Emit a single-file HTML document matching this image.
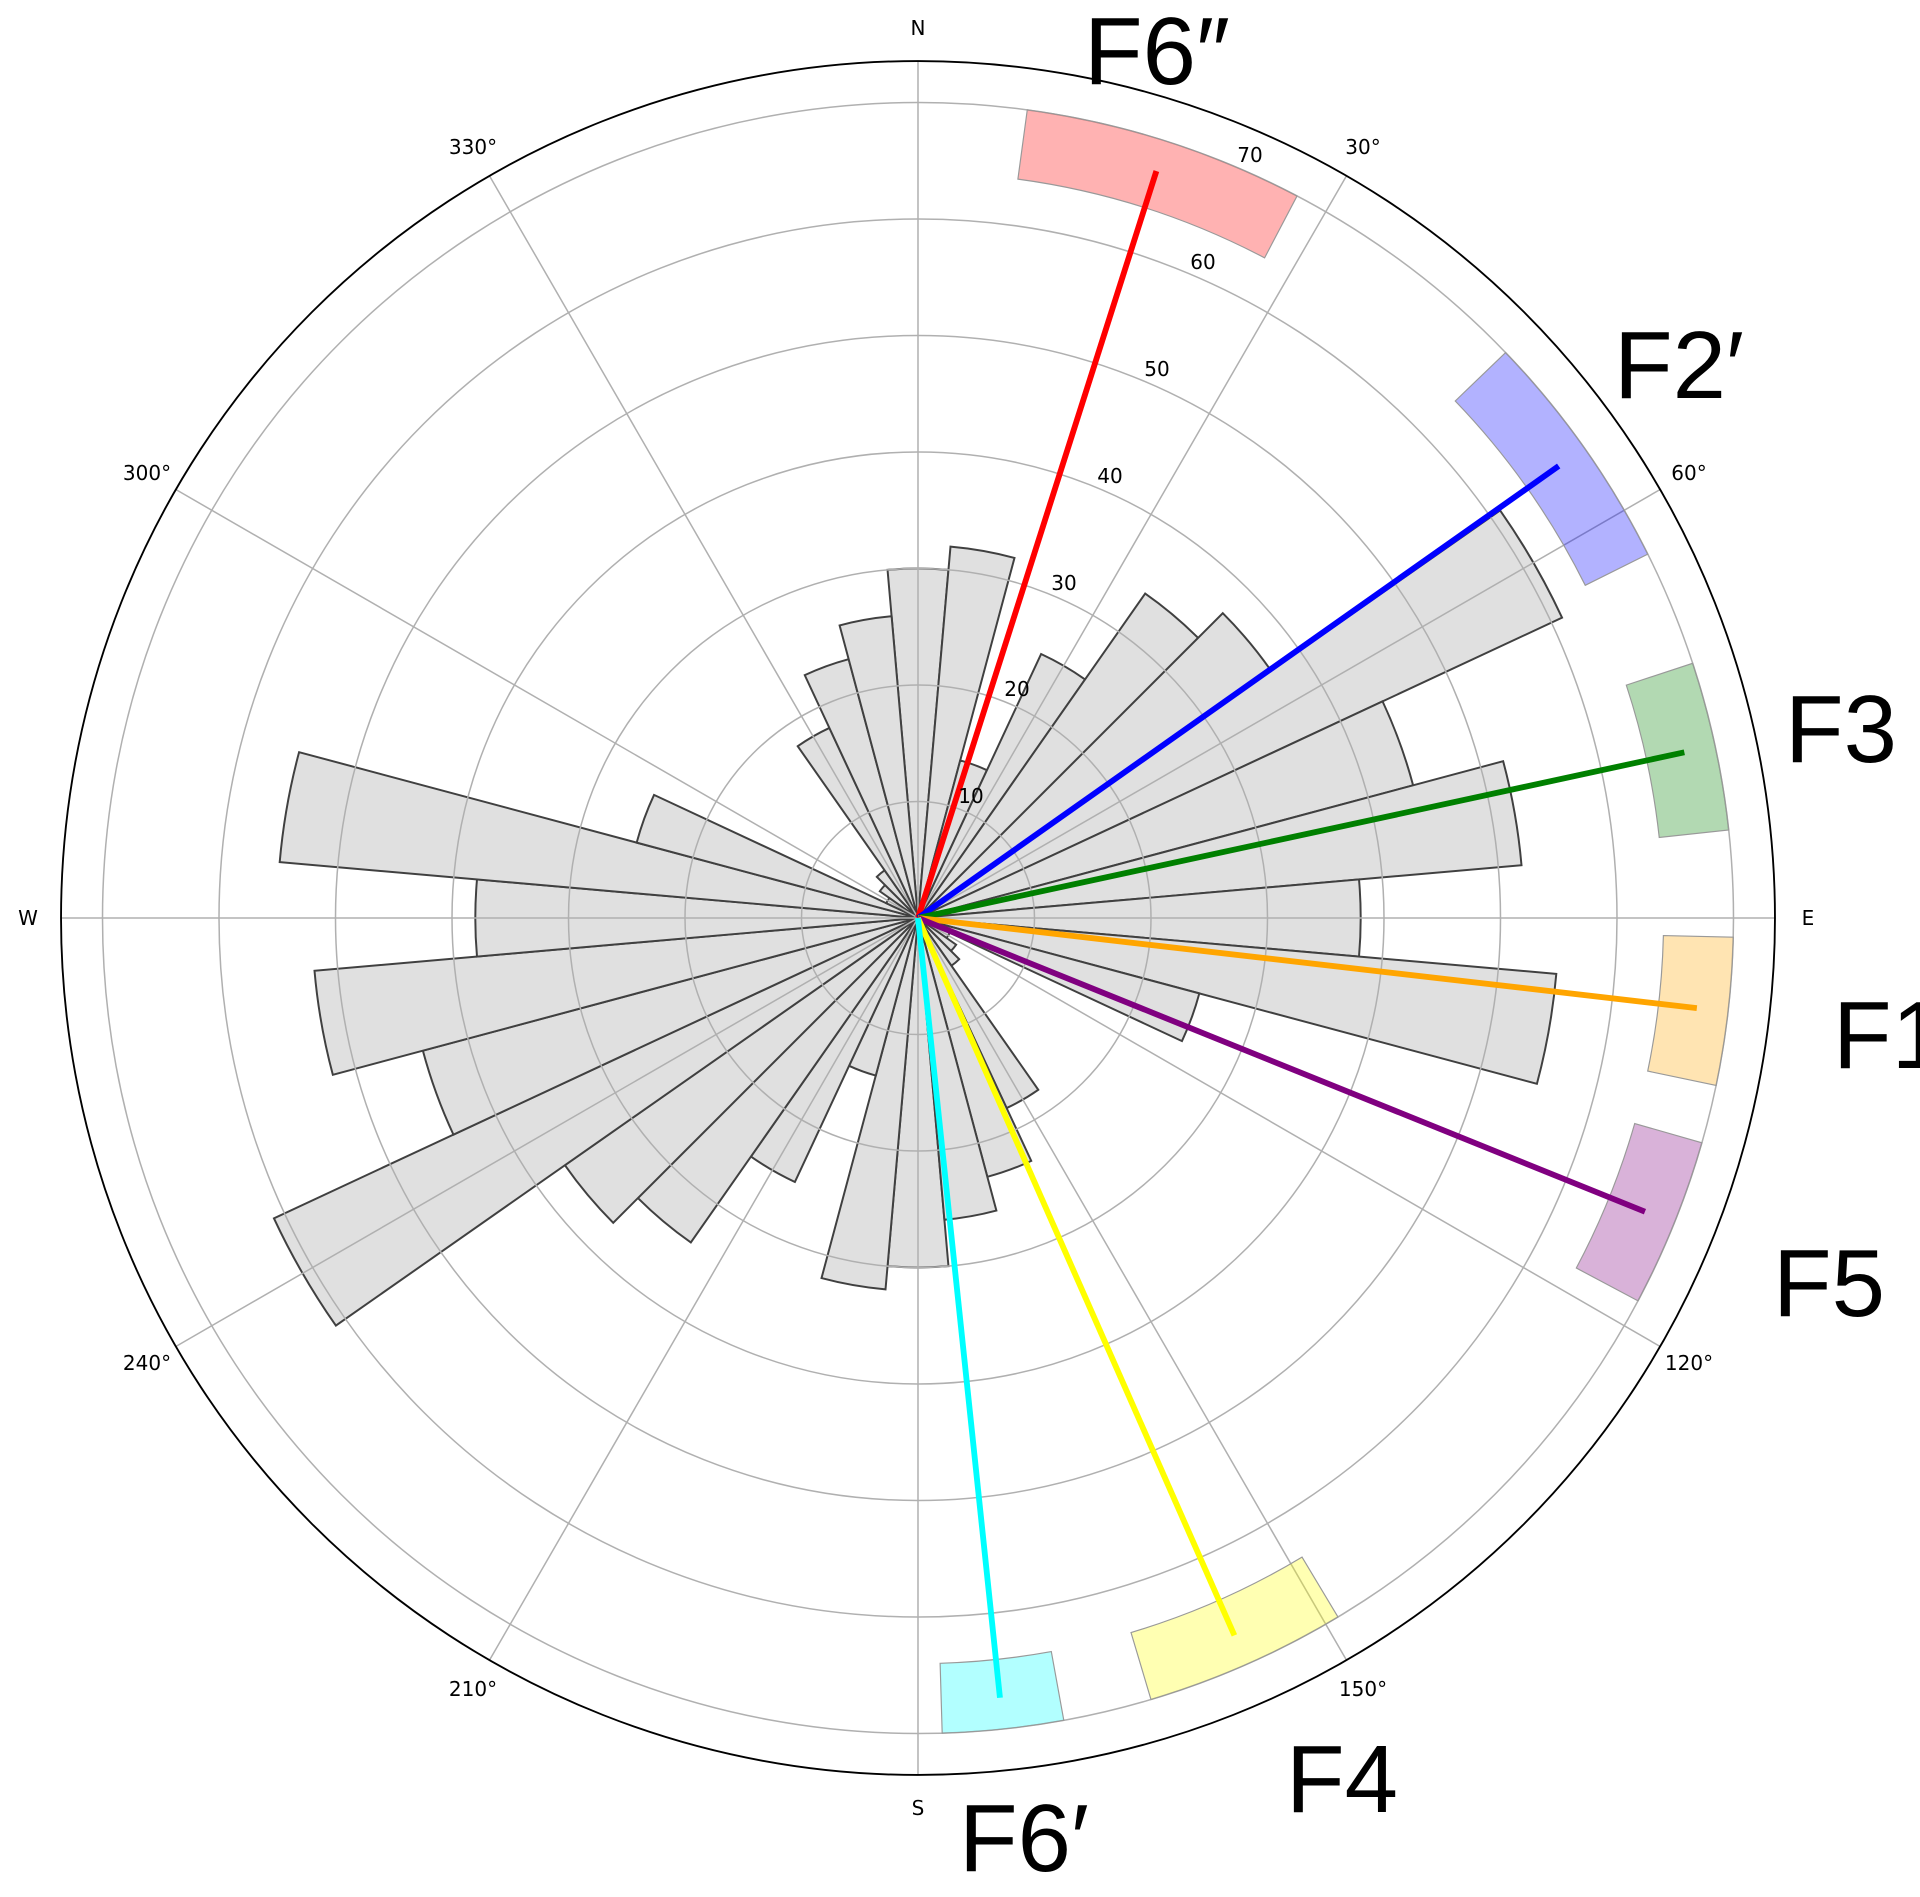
<!DOCTYPE html>
<html><head><meta charset="utf-8"><style>
html,body{margin:0;padding:0;background:#fff;}
svg{display:block;}
.b{fill:#e0e0e0;stroke:#404040;stroke-width:0.17;stroke-linejoin:miter;}
.g{fill:none;stroke:#b0b0b0;stroke-width:0.13;}
.l{stroke-width:0.5;}
.x{stroke:#999;stroke-width:0.1;fill-opacity:0.3;}
.t{font-family:"DejaVu Sans","Liberation Sans",sans-serif;font-size:20px;fill:#000;}
.F{font-family:"Liberation Sans",sans-serif;font-size:96px;fill:#000;}
</style></head><body>
<svg width="1920" height="1897" viewBox="0 0 1920 1897" xmlns="http://www.w3.org/2000/svg">
<defs>
<path id="v30" d="M0 0L-2.615 -29.886A30 30 0 0 1 2.615 -29.886Z"/>
<path id="v32" d="M0 0L-2.789 -31.878A32 32 0 0 1 2.789 -31.878Z"/>
<path id="v14" d="M0 0L-1.220 -13.947A14 14 0 0 1 1.220 -13.947Z"/>
<path id="v25" d="M0 0L-2.179 -24.905A25 25 0 0 1 2.179 -24.905Z"/>
<path id="v34" d="M0 0L-2.963 -33.870A34 34 0 0 1 2.963 -33.870Z"/>
<path id="v37" d="M0 0L-3.225 -36.859A37 37 0 0 1 3.225 -36.859Z"/>
<path id="v61" d="M0 0L-5.317 -60.768A61 61 0 0 1 5.317 -60.768Z"/>
<path id="v44" d="M0 0L-3.835 -43.832A44 44 0 0 1 3.835 -43.832Z"/>
<path id="v52" d="M0 0L-4.532 -51.802A52 52 0 0 1 4.532 -51.802Z"/>
<path id="v38" d="M0 0L-3.312 -37.855A38 38 0 0 1 3.312 -37.855Z"/>
<path id="v55" d="M0 0L-4.794 -54.790A55 55 0 0 1 4.794 -54.790Z"/>
<path id="v3" d="M0 0L-0.261 -2.989A3 3 0 0 1 0.261 -2.989Z"/>
<path id="v4" d="M0 0L-0.349 -3.985A4 4 0 0 1 0.349 -3.985Z"/>
<path id="v5" d="M0 0L-0.436 -4.981A5 5 0 0 1 0.436 -4.981Z"/>
<path id="v18" d="M0 0L-1.569 -17.931A18 18 0 0 1 1.569 -17.931Z"/>
<path id="v23" d="M0 0L-2.005 -22.912A23 23 0 0 1 2.005 -22.912Z"/>
<path id="v26" d="M0 0L-2.266 -25.901A26 26 0 0 1 2.266 -25.901Z"/>
</defs>
<g transform="translate(918,918) scale(11.65)">
<g class="b">
<use href="#v30" transform="rotate(0)"/><use href="#v30" transform="rotate(180)"/>
<use href="#v32" transform="rotate(10)"/><use href="#v32" transform="rotate(190)"/>
<use href="#v14" transform="rotate(20)"/><use href="#v14" transform="rotate(200)"/>
<use href="#v25" transform="rotate(30)"/><use href="#v25" transform="rotate(210)"/>
<use href="#v34" transform="rotate(40)"/><use href="#v34" transform="rotate(220)"/>
<use href="#v37" transform="rotate(50)"/><use href="#v37" transform="rotate(230)"/>
<use href="#v61" transform="rotate(60)"/><use href="#v61" transform="rotate(240)"/>
<use href="#v44" transform="rotate(70)"/><use href="#v44" transform="rotate(250)"/>
<use href="#v52" transform="rotate(80)"/><use href="#v52" transform="rotate(260)"/>
<use href="#v38" transform="rotate(90)"/><use href="#v38" transform="rotate(270)"/>
<use href="#v55" transform="rotate(100)"/><use href="#v55" transform="rotate(280)"/>
<use href="#v25" transform="rotate(110)"/><use href="#v25" transform="rotate(290)"/>
<use href="#v3" transform="rotate(120)"/><use href="#v3" transform="rotate(300)"/>
<use href="#v4" transform="rotate(130)"/><use href="#v4" transform="rotate(310)"/>
<use href="#v5" transform="rotate(140)"/><use href="#v5" transform="rotate(320)"/>
<use href="#v18" transform="rotate(150)"/><use href="#v18" transform="rotate(330)"/>
<use href="#v23" transform="rotate(160)"/><use href="#v23" transform="rotate(340)"/>
<use href="#v26" transform="rotate(170)"/><use href="#v26" transform="rotate(350)"/>
</g>
<g class="g">
<circle r="10"/><circle r="20"/><circle r="30"/><circle r="40"/><circle r="50"/><circle r="60"/><circle r="70"/>
<line x1="0" y1="0" x2="0" y2="-73.56" transform="rotate(0)"/>
<line x1="0" y1="0" x2="0" y2="-73.56" transform="rotate(30)"/>
<line x1="0" y1="0" x2="0" y2="-73.56" transform="rotate(60)"/>
<line x1="0" y1="0" x2="0" y2="-73.56" transform="rotate(90)"/>
<line x1="0" y1="0" x2="0" y2="-73.56" transform="rotate(120)"/>
<line x1="0" y1="0" x2="0" y2="-73.56" transform="rotate(150)"/>
<line x1="0" y1="0" x2="0" y2="-73.56" transform="rotate(180)"/>
<line x1="0" y1="0" x2="0" y2="-73.56" transform="rotate(210)"/>
<line x1="0" y1="0" x2="0" y2="-73.56" transform="rotate(240)"/>
<line x1="0" y1="0" x2="0" y2="-73.56" transform="rotate(270)"/>
<line x1="0" y1="0" x2="0" y2="-73.56" transform="rotate(300)"/>
<line x1="0" y1="0" x2="0" y2="-73.56" transform="rotate(330)"/>
</g>
<circle r="73.56" fill="none" stroke="#000" stroke-width="0.16"/>
<path class="x" fill="#ff0000" transform="rotate(17.7)" d="M-11.114 -63.028L-12.155 -68.937A70 70 0 0 1 12.155 -68.937L11.114 -63.028A64 64 0 0 0 -11.114 -63.028Z"/>
<path class="x" fill="#0000ff" transform="rotate(54.8)" d="M-9.681 -63.263L-10.588 -69.194A70 70 0 0 1 10.588 -69.194L9.681 -63.263A64 64 0 0 0 -9.681 -63.263Z"/>
<path class="x" fill="#008000" transform="rotate(77.8)" d="M-6.690 -63.649L-7.317 -69.616A70 70 0 0 1 7.317 -69.616L6.690 -63.649A64 64 0 0 0 -6.690 -63.649Z"/>
<path class="x" fill="#ffa500" transform="rotate(96.6)" d="M-5.856 -63.731L-6.405 -69.706A70 70 0 0 1 6.405 -69.706L5.856 -63.731A64 64 0 0 0 -5.856 -63.731Z"/>
<path class="x" fill="#800080" transform="rotate(112)" d="M-6.690 -63.649L-7.317 -69.616A70 70 0 0 1 7.317 -69.616L6.690 -63.649A64 64 0 0 0 -6.690 -63.649Z"/>
<path class="x" fill="#ffff00" transform="rotate(156.2)" d="M-8.021 -63.495L-8.773 -69.448A70 70 0 0 1 8.773 -69.448L8.021 -63.495A64 64 0 0 0 -8.021 -63.495Z"/>
<path class="x" fill="#00ffff" transform="rotate(174)" d="M-4.799 -63.820L-5.249 -69.803A70 70 0 0 1 5.249 -69.803L4.799 -63.820A64 64 0 0 0 -4.799 -63.820Z"/>
<line class="l" stroke="#ff0000" x1="0" y1="0" x2="0" y2="-67.3" transform="rotate(17.7)"/>
<line class="l" stroke="#0000ff" x1="0" y1="0" x2="0" y2="-67.3" transform="rotate(54.8)"/>
<line class="l" stroke="#008000" x1="0" y1="0" x2="0" y2="-67.3" transform="rotate(77.8)"/>
<line class="l" stroke="#ffa500" x1="0" y1="0" x2="0" y2="-67.3" transform="rotate(96.6)"/>
<line class="l" stroke="#800080" x1="0" y1="0" x2="0" y2="-67.3" transform="rotate(112)"/>
<line class="l" stroke="#ffff00" x1="0" y1="0" x2="0" y2="-67.3" transform="rotate(156.2)"/>
<line class="l" stroke="#00ffff" x1="0" y1="0" x2="0" y2="-67.3" transform="rotate(174)"/>
</g>
<g class="t" text-anchor="middle" dominant-baseline="central">
<text x="918" y="28">N</text>
<text x="1363" y="147">30°</text>
<text x="1689" y="473">60°</text>
<text x="1808" y="918">E</text>
<text x="1689" y="1363">120°</text>
<text x="1363" y="1689">150°</text>
<text x="918" y="1808">S</text>
<text x="473" y="1689">210°</text>
<text x="147" y="1363">240°</text>
<text x="28" y="918">W</text>
<text x="147" y="473">300°</text>
<text x="473" y="147">330°</text>
<text x="971" y="796">10</text>
<text x="1017" y="689">20</text>
<text x="1064" y="583">30</text>
<text x="1110" y="476">40</text>
<text x="1157" y="369">50</text>
<text x="1203" y="262">60</text>
<text x="1250" y="155">70</text>
</g>
<g class="F">
<text x="1084" y="84">F6″</text>
<text x="1614" y="398">F2′</text>
<text x="1785" y="762">F3</text>
<text x="1833" y="1068">F1</text>
<text x="1773" y="1316">F5</text>
<text x="1286" y="1812">F4</text>
<text x="959" y="1871">F6′</text>
</g>
</svg>
</body></html>
